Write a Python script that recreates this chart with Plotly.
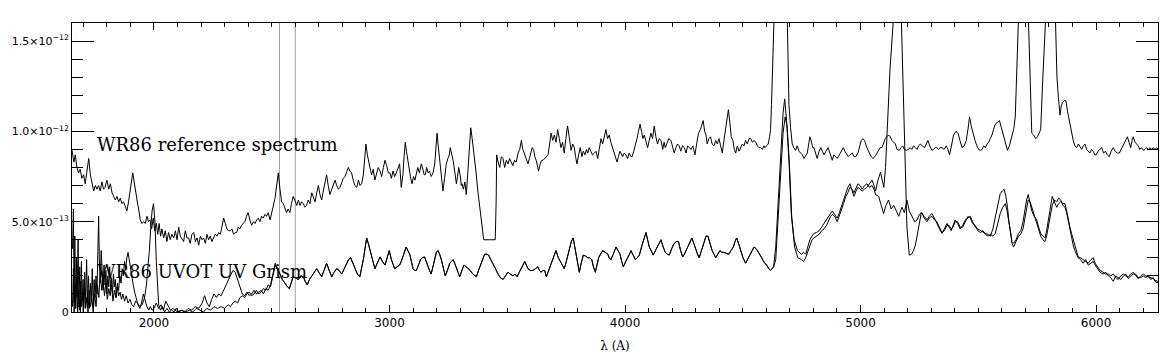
import plotly.graph_objects as go

# ---------------- data (wavelength in Angstrom, flux in units of 1e-13) ----------------
ref_points = [
(1652,8.95),(1660,8.3),(1666,8.7),(1673,8.0),(1680,7.7),(1687,7.9),(1694,7.4),(1701,7.6),(1708,7.1),(1716,7.8),
(1723,8.5),(1730,7.6),(1737,7.2),(1744,6.7),(1751,7.0),(1758,6.8),(1765,7.0),(1772,6.7),(1779,7.2),(1786,6.8),
(1792,6.9),(1800,7.3),(1808,6.8),(1815,7.1),(1822,6.6),(1829,6.4),(1836,6.2),(1843,6.4),(1850,6.1),(1857,6.3),
(1864,6.0),(1871,6.1),(1878,5.8),(1885,5.6),(1892,6.1),(1898,6.7),(1904,7.4),(1910,7.7),(1916,7.2),(1922,6.6),
(1928,6.2),(1935,5.7),(1942,5.1),(1949,4.9),(1956,5.0),(1963,4.9),(1970,5.3),(1977,5.0),(1983,5.1),(1990,4.6),
(1997,5.2),(2003,4.5),(2010,4.9),(2016,4.3),(2022,4.9),(2028,4.2),(2034,4.6),(2041,4.1),(2048,4.5),(2055,3.9),
(2062,4.4),(2069,4.0),(2076,4.3),(2084,4.1),(2091,4.5),(2098,4.0),(2105,4.7),(2112,4.2),(2119,4.0),(2126,3.9),
(2133,4.5),(2140,4.1),(2147,4.1),(2154,3.8),(2161,4.3),(2169,4.4),(2176,3.9),(2183,4.1),(2190,3.7),(2197,4.2),
(2204,4.0),(2211,4.1),(2218,3.8),(2225,4.3),(2232,4.0),(2239,4.2),(2246,3.9),(2253,4.1),(2260,4.3),(2268,4.2),
(2275,4.4),(2282,4.3),(2289,4.8),(2296,5.2),(2303,4.9),(2310,4.6),(2317,4.5),(2324,4.5),(2331,4.6),(2338,4.3),
(2345,4.4),(2351,4.4),(2358,4.7),(2365,4.6),(2372,4.8),(2379,4.9),(2386,5.0),(2393,5.3),(2400,5.5),(2407,5.1),
(2415,4.8),(2422,5.0),(2429,4.9),(2436,5.1),(2443,5.2),(2450,5.0),(2457,5.3),(2464,5.2),(2471,5.4),(2478,5.3),
(2485,5.5),(2493,5.1),(2500,5.5),(2507,5.8),(2514,6.3),(2521,7.0),(2528,7.7),(2535,6.8),(2542,6.1),(2549,6.0),
(2556,5.7),(2563,5.5),(2570,5.7),(2577,5.5),(2584,6.0),(2591,6.4),(2598,6.2),(2606,5.9),(2613,6.2),(2620,5.9),
(2627,6.1),(2634,6.0),(2641,5.8),(2648,5.9),(2655,6.2),(2662,6.0),(2670,6.6),(2677,6.3),(2684,6.1),(2691,6.6),
(2698,7.0),(2705,6.5),(2712,6.2),(2719,6.7),(2726,7.1),(2733,7.6),(2740,7.0),(2747,6.5),(2755,6.8),(2762,7.1),
(2769,7.3),(2776,7.0),(2783,6.8),(2790,6.9),(2797,7.2),(2804,7.4),(2811,7.5),(2818,7.8),(2825,8.0),(2832,7.8),
(2839,7.7),(2846,7.3),(2853,7.0),(2861,6.9),(2868,7.3),(2875,7.0),(2882,7.1),(2889,7.6),(2895,8.6),(2900,9.3),
(2906,8.7),(2912,8.2),(2917,8.0),(2924,7.6),(2931,7.9),(2938,7.3),(2945,7.6),(2952,8.0),(2960,7.8),(2967,7.5),
(2974,8.0),(2981,8.4),(2988,8.1),(2995,7.7),(3002,7.7),(3008,7.4),(3015,7.8),(3022,7.5),(3029,7.7),(3036,7.9),
(3043,8.2),(3050,6.9),(3057,7.6),(3062,8.6),(3067,9.4),(3072,8.9),(3078,8.4),(3084,7.8),(3090,7.4),(3096,7.1),
(3102,7.5),(3108,7.3),(3114,7.7),(3120,8.0),(3127,7.7),(3135,8.2),(3142,7.9),(3147,7.6),(3152,7.6),(3158,8.0),
(3164,7.7),(3170,7.8),(3177,7.5),(3185,7.7),(3192,8.2),(3198,9.0),(3202,9.9),(3207,9.2),(3213,8.4),(3220,7.5),
(3227,6.7),(3234,7.4),(3241,8.2),(3248,8.5),(3254,8.7),(3258,9.1),(3264,8.8),(3270,8.4),(3277,7.8),(3284,7.1),
(3289,7.5),(3294,8.0),(3300,7.6),(3305,7.0),(3308,7.1),(3314,6.8),(3320,7.2),(3326,6.5),(3332,7.6),(3338,9.0),
(3345,10.2),(3351,9.6),(3359,8.8),(3367,7.8),(3376,6.6),(3388,5.3),(3400,4.0),(3425,4.0),(3449,4.0),(3453,6.2),
(3455,8.7),(3461,8.3),(3468,8.0),(3475,8.6),(3482,8.5),(3489,8.0),(3496,8.4),(3503,8.2),(3510,8.5),(3517,8.3),
(3524,8.1),(3531,8.4),(3538,8.3),(3546,8.8),(3553,9.0),(3560,9.5),(3566,9.0),(3572,8.8),(3577,8.6),(3582,8.4),
(3588,8.2),(3594,8.5),(3600,8.8),(3606,9.1),(3612,9.0),(3617,8.6),(3623,8.4),(3628,8.0),(3633,7.8),(3640,8.2),
(3646,8.4),(3652,8.4),(3659,8.5),(3666,8.6),(3673,8.7),(3680,9.3),(3686,9.9),(3693,9.5),(3700,9.8),(3707,9.4),
(3714,10.1),(3721,9.6),(3728,9.1),(3735,9.4),(3742,8.8),(3749,9.6),(3756,10.3),(3763,9.7),(3771,8.95),(3778,9.3),
(3785,9.1),(3790,8.6),(3796,8.2),(3803,8.7),(3810,9.1),(3817,8.6),(3823,8.9),(3830,8.7),(3836,9.0),(3842,8.8),
(3848,9.1),(3855,8.9),(3862,8.7),(3870,8.8),(3877,8.9),(3884,8.5),(3891,9.1),(3898,9.6),(3905,9.3),(3912,9.8),
(3919,10.1),(3926,9.6),(3933,9.8),(3940,9.4),(3948,9.1),(3955,8.8),(3962,8.5),(3966,8.3),(3972,8.6),(3978,8.9),
(3983,8.8),(3990,8.6),(3997,8.8),(4004,8.7),(4011,8.5),(4018,8.8),(4025,8.6),(4030,8.6),(4037,8.9),(4044,9.2),
(4051,9.6),(4057,10.0),(4064,10.4),(4070,10.0),(4076,9.6),(4082,9.8),(4089,9.4),(4096,9.1),(4103,9.5),(4110,9.9),
(4117,9.6),(4124,10.3),(4131,9.7),(4138,9.3),(4145,9.6),(4153,9.5),(4160,9.0),(4166,9.4),(4171,9.1),(4178,9.3),
(4186,9.6),(4195,9.5),(4202,9.2),(4209,8.8),(4216,9.1),(4223,9.3),(4230,9.2),(4237,8.9),(4244,9.2),(4252,9.1),
(4259,8.8),(4266,9.2),(4273,9.1),(4280,9.0),(4288,9.2),(4297,8.7),(4304,9.3),(4312,9.9),(4320,10.1),(4326,10.4),
(4332,10.6),(4338,10.0),(4344,9.8),(4349,9.3),(4356,9.6),(4363,9.7),(4370,9.3),(4378,9.2),(4385,9.5),(4392,9.3),
(4399,9.6),(4406,9.2),(4413,8.8),(4420,9.5),(4428,10.2),(4434,10.9),(4439,11.2),(4445,10.5),(4451,9.7),(4458,9.5),
(4464,9.0),(4470,8.8),(4477,9.2),(4484,8.9),(4491,9.1),(4498,9.3),(4505,9.2),(4512,9.5),(4519,9.3),(4527,9.6),
(4534,9.6),(4541,9.4),(4548,9.5),(4555,9.4),(4562,9.2),(4569,9.1),(4576,9.1),(4583,9.0),(4590,9.2),(4594,9.1),
(4601,9.2),(4608,9.3),(4614,9.7),(4618,10.1),(4622,11.5),(4625,13.5),(4629,16.5),(4640,22.0),(4655,26.0),(4668,25.0),
(4680,21.0),(4689,16.3),(4696,11.5),(4703,10.2),(4710,9.3),(4717,9.1),(4724,8.95),(4731,9.2),(4739,8.9),(4746,8.8),
(4753,8.7),(4760,8.5),(4767,8.7),(4774,8.8),(4780,9.3),(4785,9.7),(4792,9.4),(4797,9.1),(4802,9.1),(4809,8.8),
(4816,8.5),(4824,8.9),(4831,9.1),(4838,8.9),(4845,8.7),(4853,8.9),(4862,9.1),(4870,8.8),(4876,8.6),(4880,8.4),
(4887,8.7),(4894,8.6),(4901,8.5),(4910,8.7),(4918,8.9),(4927,9.1),(4934,8.9),(4941,8.7),(4947,8.6),(4955,8.7),
(4965,8.8),(4972,8.6),(4980,8.6),(4989,8.8),(4996,9.1),(5003,9.5),(5010,9.6),(5017,9.5),(5027,9.1),(5036,8.8),
(5045,8.6),(5053,8.5),(5061,8.6),(5070,8.8),(5078,9.0),(5084,9.1),(5091,9.1),(5098,9.3),(5105,9.6),(5112,9.7),
(5119,9.8),(5126,9.7),(5133,9.5),(5141,9.4),(5148,9.3),(5155,9.0),(5165,8.95),(5172,9.1),(5179,9.2),(5186,9.0),
(5194,8.95),(5202,9.0),(5211,9.1),(5218,9.0),(5225,9.2),(5233,9.1),(5240,9.0),(5247,9.2),(5254,9.3),(5262,9.2),
(5272,9.1),(5279,9.3),(5286,9.5),(5294,9.2),(5303,8.95),(5310,9.0),(5317,9.1),(5324,9.1),(5331,9.0),(5338,9.1),
(5346,9.1),(5355,9.0),(5364,9.2),(5371,9.0),(5378,8.7),(5386,9.2),(5395,9.8),(5405,10.0),(5414,9.9),(5422,9.5),
(5431,9.1),(5440,9.2),(5449,9.5),(5456,10.1),(5463,10.8),(5470,10.3),(5477,9.9),(5486,9.5),(5494,9.2),(5502,9.0),
(5509,8.95),(5516,9.0),(5523,9.2),(5530,9.1),(5537,9.3),(5544,9.4),(5551,9.6),(5558,9.8),(5565,10.1),(5572,10.4),
(5581,10.5),(5590,10.6),(5598,10.2),(5607,9.8),(5615,9.3),(5624,8.95),(5632,9.2),(5643,9.7),(5650,10.1),(5657,10.8),
(5664,13.4),(5671,16.1),(5680,22.0),(5690,24.0),(5702,21.0),(5712,16.1),(5720,12.0),(5727,9.9),(5735,9.8),(5744,9.6),
(5751,9.7),(5758,9.9),(5765,10.1),(5772,12.4),(5783,16.1),(5795,22.0),(5810,23.0),(5820,20.0),(5829,16.1),(5834,13.0),
(5840,11.9),(5847,10.9),(5852,11.4),(5858,11.6),(5865,11.7),(5872,11.7),(5879,11.1),(5886,10.6),(5896,9.9),(5903,9.5),
(5910,9.2),(5918,9.1),(5925,9.3),(5932,9.1),(5939,9.0),(5946,9.2),(5953,9.3),(5960,9.0),(5967,8.9),(5974,8.8),
(5981,9.0),(5988,8.9),(5995,8.7),(6000,8.7),(6008,8.9),(6016,9.0),(6024,9.1),(6032,8.8),(6040,8.9),(6048,8.7),
(6056,8.6),(6064,8.9),(6073,9.1),(6081,8.9),(6090,8.8),(6099,8.8),(6107,9.0),(6116,9.2),(6124,9.4),(6133,9.7),
(6140,9.4),(6147,9.1),(6153,9.5),(6158,9.7),(6165,9.4),(6172,9.3),(6179,9.2),(6186,9.0),(6193,9.1),(6201,8.95),
(6208,9.0),(6215,9.1),(6222,9.0),(6229,9.1),(6236,9.0),(6243,9.1),(6250,9.0),(6257,9.1),(6263,9.0),
]

# UVOT grism, trace 1: UV part
grism1_uv = [
(1654,3.5),(1658,5.7),(1661,0.5),(1664,4.2),(1667,0.2),(1671,3.0),(1674,0.8),(1678,4.0),(1681,0.3),(1685,2.5),
(1688,0.0),(1692,2.8),(1695,0.6),(1699,1.8),(1702,0.2),(1706,2.2),(1710,0.4),(1714,2.9),(1718,0.5),(1722,2.0),
(1726,0.2),(1730,1.6),(1734,0.6),(1738,2.4),(1742,0.3),(1746,1.8),(1750,0.8),(1754,2.0),(1758,1.0),(1762,3.6),
(1765,5.3),(1768,3.0),(1772,1.6),(1776,3.4),(1780,2.0),(1784,1.2),(1788,2.6),(1792,1.5),(1796,2.3),(1800,1.0),
(1804,2.0),(1808,1.4),(1812,2.5),(1816,1.2),(1820,1.9),(1824,1.0),(1828,2.1),(1832,1.4),(1836,1.8),(1840,0.8),
(1845,1.6),(1850,1.2),(1855,2.0),(1860,1.6),(1865,2.4),(1870,2.0),(1875,2.8),(1880,2.4),(1885,3.0),(1890,3.3),
(1895,2.9),(1900,2.4),(1906,2.0),(1912,1.5),(1918,1.1),(1925,0.7),(1932,0.4),(1940,0.2),(1947,0.5),(1955,1.0),
(1962,0.6),(1970,0.3),(1978,0.1),(1985,0.3),(1992,0.1),(2000,0.2),(2010,0.5),(2020,0.2),(2030,0.4),(2040,0.1),
(2050,0.6),(2060,0.3),(2070,0.1),(2080,0.2),(2090,0.1),(2100,0.0),(2115,0.1),(2130,0.0),(2145,0.2),(2160,0.1),
(2175,0.3),(2190,0.2),(2205,0.5),(2215,0.9),(2225,0.5),(2235,0.3),(2245,0.7),(2255,1.0),(2265,0.8),(2275,1.0),
(2285,0.9),(2295,1.2),(2305,1.4),(2315,1.8),(2325,2.1),(2335,2.3),(2345,2.2),(2355,1.8),(2365,1.3),(2375,1.0),
(2385,0.9),(2395,1.1),(2405,0.9),(2415,1.0),(2425,1.2),(2435,1.0),(2445,1.1),(2455,1.2),(2465,1.0),(2475,1.3),
(2485,1.2),(2495,1.5),(2505,2.1),(2515,2.7),
]

# UVOT grism, trace 2: UV part
grism2_uv = [
(1654,0.3),(1658,2.4),(1661,0.0),(1665,1.5),(1668,0.2),(1672,2.0),(1676,0.0),(1680,1.2),(1684,0.1),(1688,1.7),
(1692,0.3),(1696,0.9),(1700,0.0),(1705,1.4),(1710,0.2),(1715,0.8),(1720,0.0),(1725,1.2),(1730,0.3),(1736,0.7),
(1742,0.0),(1748,1.0),(1754,0.3),(1760,1.5),(1766,0.8),(1772,2.2),(1778,1.2),(1784,1.8),(1790,0.9),(1796,1.6),
(1802,0.7),(1808,1.3),(1814,0.9),(1820,1.5),(1826,0.6),(1832,1.2),(1838,0.8),(1844,1.4),(1850,0.9),(1856,1.1),
(1862,0.7),(1868,1.0),(1875,0.6),(1882,0.9),(1890,0.5),(1898,0.7),(1906,0.4),(1914,0.3),(1922,0.6),(1930,0.5),
(1940,0.3),(1950,0.4),(1960,0.8),(1968,1.5),(1975,2.6),(1980,3.3),(1986,4.6),(1992,5.6),(1998,6.0),(2004,5.0),
(2010,2.8),(2014,1.4),(2020,0.4),(2028,0.1),(2036,0.3),(2045,0.0),(2055,0.2),(2065,0.0),(2075,0.1),(2085,0.0),
(2095,0.2),(2105,0.0),(2120,0.1),(2135,0.0),(2150,0.1),(2165,0.0),(2180,0.2),(2195,0.1),(2210,0.0),(2225,0.2),
(2240,0.1),(2255,0.3),(2270,0.2),(2285,0.3),(2300,0.2),(2315,0.4),(2325,0.3),(2335,0.5),(2345,0.6),(2355,0.5),
(2365,0.8),(2375,0.9),(2385,0.8),(2395,1.0),(2405,1.1),(2415,0.9),(2425,1.0),(2435,1.2),(2445,1.0),(2455,1.1),
(2465,1.3),(2475,1.2),(2485,1.5),(2495,1.4),(2505,2.0),(2515,2.6),
]

# both grism traces, 2535-4631 A (they coincide)
grism_mid = [
(2535,2.1),(2545,1.8),(2556,1.6),(2566,1.4),(2575,1.3),(2583,1.6),(2591,1.95),(2600,1.9),(2613,1.8),(2623,2.0),
(2634,1.95),(2642,1.7),(2651,1.5),(2660,1.8),(2670,2.0),(2680,2.2),(2691,2.4),(2700,2.2),(2712,1.95),(2722,2.3),
(2733,2.7),(2744,2.3),(2755,1.95),(2765,2.2),(2776,2.4),(2786,2.3),(2797,2.1),(2808,2.4),(2818,2.7),(2826,2.9),
(2835,3.0),(2844,2.7),(2853,2.4),(2864,2.1),(2874,1.95),(2882,2.4),(2889,2.9),(2896,3.5),(2903,4.1),(2910,3.8),
(2917,3.4),(2928,2.9),(2938,2.4),(2949,2.7),(2960,3.05),(2970,2.8),(2981,2.6),(2990,3.0),(2999,3.4),(3008,2.9),
(3015,2.6),(3022,2.4),(3032,2.5),(3043,2.6),(3050,2.8),(3057,3.05),(3064,3.4),(3071,3.6),(3078,3.4),(3086,3.2),
(3093,2.8),(3100,2.4),(3107,2.3),(3114,2.3),(3123,2.6),(3132,2.9),(3140,3.0),(3149,3.05),(3156,2.8),(3163,2.5),
(3170,2.3),(3177,2.1),(3185,2.6),(3192,3.05),(3199,3.3),(3206,3.4),(3213,3.2),(3220,2.9),(3228,2.5),(3237,2.0),
(3246,2.3),(3256,2.7),(3263,2.8),(3270,2.9),(3277,2.7),(3284,2.5),(3291,2.2),(3298,1.95),(3307,2.3),(3316,2.6),
(3325,2.5),(3333,2.4),(3343,2.3),(3354,2.1),(3362,2.0),(3369,1.95),(3378,2.3),(3387,2.6),(3395,2.9),(3404,3.2),
(3412,3.2),(3421,3.15),(3430,2.9),(3439,2.7),(3450,2.4),(3461,2.1),(3471,1.9),(3482,1.8),(3492,2.0),(3503,2.2),
(3513,2.1),(3524,2.0),(3533,2.1),(3542,1.95),(3551,2.2),(3560,2.4),(3567,2.6),(3574,2.8),(3581,2.6),(3588,2.4),
(3598,2.3),(3609,2.3),(3620,2.4),(3630,2.5),(3637,2.3),(3644,2.2),(3651,2.3),(3659,2.3),(3666,1.95),(3676,2.3),
(3686,2.7),(3697,3.1),(3707,3.4),(3717,3.0),(3728,2.7),(3735,2.5),(3742,2.4),(3749,2.7),(3756,3.05),(3764,3.5),
(3772,3.9),(3780,4.1),(3787,3.6),(3795,3.05),(3800,2.6),(3806,2.2),(3814,2.7),(3823,3.15),(3832,3.1),(3842,3.0),
(3850,3.0),(3859,2.9),(3866,2.5),(3874,2.2),(3881,2.6),(3888,3.0),(3896,3.2),(3905,3.4),(3916,3.3),(3927,3.2),
(3933,3.0),(3940,2.9),(3950,3.2),(3962,3.6),(3970,3.4),(3979,3.2),(3986,2.8),(3993,2.5),(4003,2.8),(4012,3.0),
(4019,3.2),(4025,3.4),(4035,3.1),(4044,2.9),(4052,3.0),(4061,3.15),(4070,3.6),(4078,4.0),(4084,4.3),(4089,4.4),
(4096,4.0),(4103,3.6),(4111,3.4),(4120,3.15),(4129,3.4),(4138,3.6),(4145,3.8),(4153,4.0),(4162,3.6),(4171,3.3),
(4180,3.2),(4188,3.15),(4198,3.5),(4209,3.8),(4218,3.9),(4227,3.9),(4236,3.4),(4245,3.05),(4252,3.2),(4259,3.4),
(4271,3.8),(4284,4.1),(4292,3.8),(4301,3.4),(4308,3.2),(4315,3.0),(4322,3.3),(4329,3.6),(4337,4.0),(4344,4.2),
(4352,4.2),(4361,3.8),(4370,3.4),(4378,3.2),(4385,3.0),(4394,3.2),(4403,3.4),(4411,3.3),(4420,3.3),(4430,3.25),
(4441,3.2),(4450,3.4),(4460,3.6),(4467,3.9),(4474,4.1),(4482,3.8),(4491,3.4),(4501,3.0),(4512,2.7),(4521,2.9),
(4531,3.2),(4540,3.4),(4548,3.6),(4557,3.5),(4567,3.3),(4575,3.1),(4584,2.9),(4593,2.7),(4602,2.6),(4610,2.4),
(4618,2.3),(4625,2.4),(4631,2.5),
]

# grism trace 1, red part
grism1_red = [
(4640,3.6),(4650,6.2),(4661,8.8),(4671,11.0),(4678,11.8),(4686,10.6),(4696,8.4),(4706,5.45),(4718,4.0),(4732,3.4),
(4749,3.2),(4758,3.3),(4767,3.2),(4776,3.6),(4785,4.0),(4794,4.2),(4802,4.35),(4813,4.4),(4824,4.5),(4835,4.7),
(4845,4.9),(4856,5.1),(4866,5.3),(4873,5.5),(4880,5.6),(4890,5.4),(4901,5.2),(4910,5.5),(4918,5.8),(4928,6.2),
(4937,6.55),(4946,6.9),(4955,7.1),(4964,6.7),(4972,6.4),(4981,6.7),(4989,6.9),(4998,6.8),(5007,6.7),(5017,6.8),
(5027,6.9),(5038,7.1),(5049,7.3),(5057,7.0),(5064,6.7),(5072,7.2),(5080,7.6),(5085,7.75),(5092,7.3),(5099,6.9),
(5106,8.0),(5112,9.7),(5119,11.5),(5125,13.4),(5140,16.3),(5155,19.0),(5173,16.3),(5183,11.5),(5190,6.9),(5197,4.7),
(5207,3.15),(5217,3.2),(5225,3.4),(5233,3.7),(5240,4.2),(5247,4.7),(5253,5.1),(5258,5.5),(5270,5.3),(5282,5.1),
(5292,5.3),(5303,5.45),(5314,5.2),(5324,4.9),(5335,4.6),(5346,4.35),(5356,4.6),(5367,4.9),(5376,4.7),(5385,4.5),
(5393,4.8),(5402,5.1),(5412,4.9),(5423,4.6),(5434,4.8),(5445,5.1),(5456,5.2),(5466,5.3),(5476,5.0),(5487,4.7),
(5498,4.6),(5509,4.5),(5520,4.4),(5530,4.35),(5541,4.3),(5551,4.2),(5562,4.6),(5572,5.3),(5583,6.0),(5593,6.55),
(5602,6.7),(5610,6.8),(5617,6.4),(5624,5.8),(5630,5.0),(5636,4.35),(5643,3.9),(5650,3.8),(5660,4.0),(5671,4.35),
(5680,4.5),(5690,5.0),(5698,5.8),(5705,6.2),(5712,6.5),(5720,6.0),(5727,5.6),(5737,5.3),(5748,5.1),(5756,4.7),
(5765,4.35),(5774,4.2),(5783,4.1),(5790,4.5),(5797,5.1),(5805,5.8),(5814,6.4),(5823,6.1),(5833,5.8),(5841,6.0),
(5850,6.1),(5859,6.0),(5868,6.0),(5875,5.6),(5882,5.1),(5889,4.7),(5896,4.35),(5903,4.0),(5910,3.6),(5917,3.3),
(5924,3.05),(5935,3.0),(5945,2.9),(5956,2.8),(5967,2.7),(5978,2.9),(5988,3.0),(5996,2.7),(6005,2.5),(6017,2.3),
(6030,2.2),(6041,2.1),(6052,2.1),(6062,2.0),(6073,2.1),(6084,1.9),(6094,1.8),(6105,2.0),(6116,2.1),(6126,2.0),
(6137,1.95),(6147,2.1),(6158,2.2),(6168,2.0),(6179,1.85),(6190,2.0),(6201,2.1),(6211,2.0),(6222,1.95),(6232,1.9),
(6243,1.85),(6250,1.75),(6257,1.6),(6263,1.7),
]

# grism trace 2, red part
grism2_red = [
(4640,2.9),(4650,5.0),(4661,7.9),(4671,9.9),(4680,10.8),(4688,10.3),(4698,8.2),(4708,5.2),(4720,3.6),(4734,3.0),
(4749,2.9),(4758,2.8),(4767,3.0),(4776,3.3),(4785,3.7),(4794,4.0),(4802,4.1),(4813,4.2),(4824,4.3),(4835,4.5),
(4845,4.6),(4856,4.8),(4866,5.1),(4873,5.3),(4880,5.4),(4890,5.3),(4901,5.0),(4910,5.3),(4918,5.6),(4928,6.0),
(4937,6.4),(4946,6.6),(4955,6.9),(4964,6.8),(4972,6.6),(4981,6.9),(4989,7.1),(4998,7.0),(5007,6.8),(5017,7.0),
(5027,7.1),(5038,6.9),(5049,7.0),(5057,6.8),(5064,6.5),(5077,6.4),(5088,5.9),(5098,5.45),(5108,5.9),(5119,6.2),
(5130,5.7),(5141,5.9),(5152,5.6),(5162,5.3),(5170,5.6),(5176,5.8),(5186,5.5),(5197,6.2),(5207,5.6),(5218,5.3),
(5230,5.0),(5240,5.1),(5250,5.4),(5261,5.5),(5270,5.2),(5282,5.0),(5292,5.2),(5303,5.3),(5314,5.1),(5324,5.0),
(5335,4.7),(5346,4.4),(5356,4.5),(5367,4.8),(5376,4.8),(5385,4.6),(5393,4.7),(5402,5.0),(5412,5.0),(5423,4.7),
(5434,4.7),(5445,5.0),(5456,5.3),(5466,5.2),(5476,4.9),(5487,4.8),(5498,4.5),(5509,4.4),(5520,4.5),(5530,4.3),
(5541,4.2),(5551,4.3),(5562,4.2),(5572,4.35),(5583,5.0),(5593,5.45),(5604,5.8),(5615,6.0),(5622,5.6),(5629,5.1),
(5636,4.5),(5643,3.8),(5650,3.6),(5660,3.9),(5671,4.2),(5680,4.3),(5690,4.6),(5698,5.2),(5705,5.8),(5712,6.2),
(5720,6.1),(5727,5.8),(5737,5.5),(5748,5.0),(5756,4.6),(5765,4.2),(5774,4.0),(5783,3.9),(5790,4.2),(5797,4.7),
(5805,5.2),(5814,5.9),(5823,6.2),(5833,6.1),(5841,6.3),(5850,6.2),(5859,5.9),(5868,5.8),(5875,5.5),(5882,5.0),
(5889,4.5),(5896,4.0),(5903,3.7),(5910,3.4),(5917,3.2),(5924,3.0),(5935,2.9),(5945,2.7),(5956,2.9),(5967,2.6),
(5978,2.7),(5988,2.8),(5996,2.6),(6005,2.4),(6017,2.2),(6030,2.1),(6041,2.2),(6052,2.0),(6062,1.9),(6073,1.7),
(6084,2.0),(6094,1.9),(6105,1.8),(6116,2.0),(6126,2.1),(6137,1.85),(6147,2.0),(6158,2.1),(6168,2.1),(6179,1.9),
(6190,1.9),(6201,2.0),(6211,1.9),(6222,2.0),(6232,1.8),(6243,1.9),(6250,1.7),(6257,1.75),(6263,1.6),
]

flux_unit = 1e-13
marker_wavelengths = [2533, 2600]
x_range = [1652, 6263]
y_range = [0, 1.6e-12]
y_tick_vals = [0, 5e-13, 1e-12, 1.5e-12]
y_tick_text = ["0", "5.0×10<sup>−13</sup>", "1.0×10<sup>−12</sup>", "1.5×10<sup>−12</sup>"]
label_ref = "WR86 reference spectrum"
label_grism = "WR86 UVOT UV Grism"
x_title = "λ (A)"


def unpack(points):
    return [p[0] for p in points], [p[1] * flux_unit for p in points]


fig = go.Figure()
for pts in (ref_points, grism1_uv + grism_mid + grism1_red, grism2_uv + grism_mid + grism2_red):
    wx, fy = unpack(pts)
    fig.add_trace(go.Scatter(x=wx, y=fy, mode="lines",
                             line=dict(color="black", width=1), showlegend=False,
                             hoverinfo="skip"))

for w in marker_wavelengths:
    fig.add_shape(type="line", xref="x", yref="paper", x0=w, x1=w, y0=0, y1=1,
                  line=dict(color="#a0a0a0", width=1), layer="below")

fig.add_annotation(x=1750, y=9.3e-13, xref="x", yref="y", text=label_ref, showarrow=False,
                   xanchor="left", yanchor="middle",
                   font=dict(family="DejaVu Serif", size=18, color="black"))
fig.add_annotation(x=1750, y=2.27e-13, xref="x", yref="y", text=label_grism, showarrow=False,
                   xanchor="left", yanchor="middle",
                   font=dict(family="DejaVu Serif", size=18, color="black"))

# the page body has an 8px margin at the top, so the figure is made 8px shorter
fig.update_layout(
    width=1166, height=348,
    margin=dict(l=64, r=16, t=15, b=44),
    paper_bgcolor="white", plot_bgcolor="white",
    showlegend=False,
)
fig.update_xaxes(
    range=x_range, showgrid=False, zeroline=False, automargin=False,
    showline=True, linecolor="black", linewidth=1, mirror="ticks",
    ticks="inside", ticklen=7, tickwidth=1, tickcolor="black",
    tick0=0, dtick=1000,
    minor=dict(ticks="inside", ticklen=4, tickcolor="black", dtick=100, showgrid=False),
    tickfont=dict(family="DejaVu Sans", size=12, color="black"),
    title=dict(text=x_title, font=dict(family="DejaVu Serif", size=12, color="black"), standoff=12),
)
fig.update_yaxes(
    range=y_range, showgrid=False, zeroline=False, automargin=False,
    showline=True, linecolor="black", linewidth=1, mirror="ticks",
    ticks="inside", ticklen=22, tickwidth=1, tickcolor="black",
    tickvals=y_tick_vals, ticktext=y_tick_text,
    minor=dict(ticks="inside", ticklen=11, tickcolor="black", dtick=1e-13, tick0=0, showgrid=False),
    tickfont=dict(family="DejaVu Sans", size=11, color="black"),
)

fig.write_html("out.html")
